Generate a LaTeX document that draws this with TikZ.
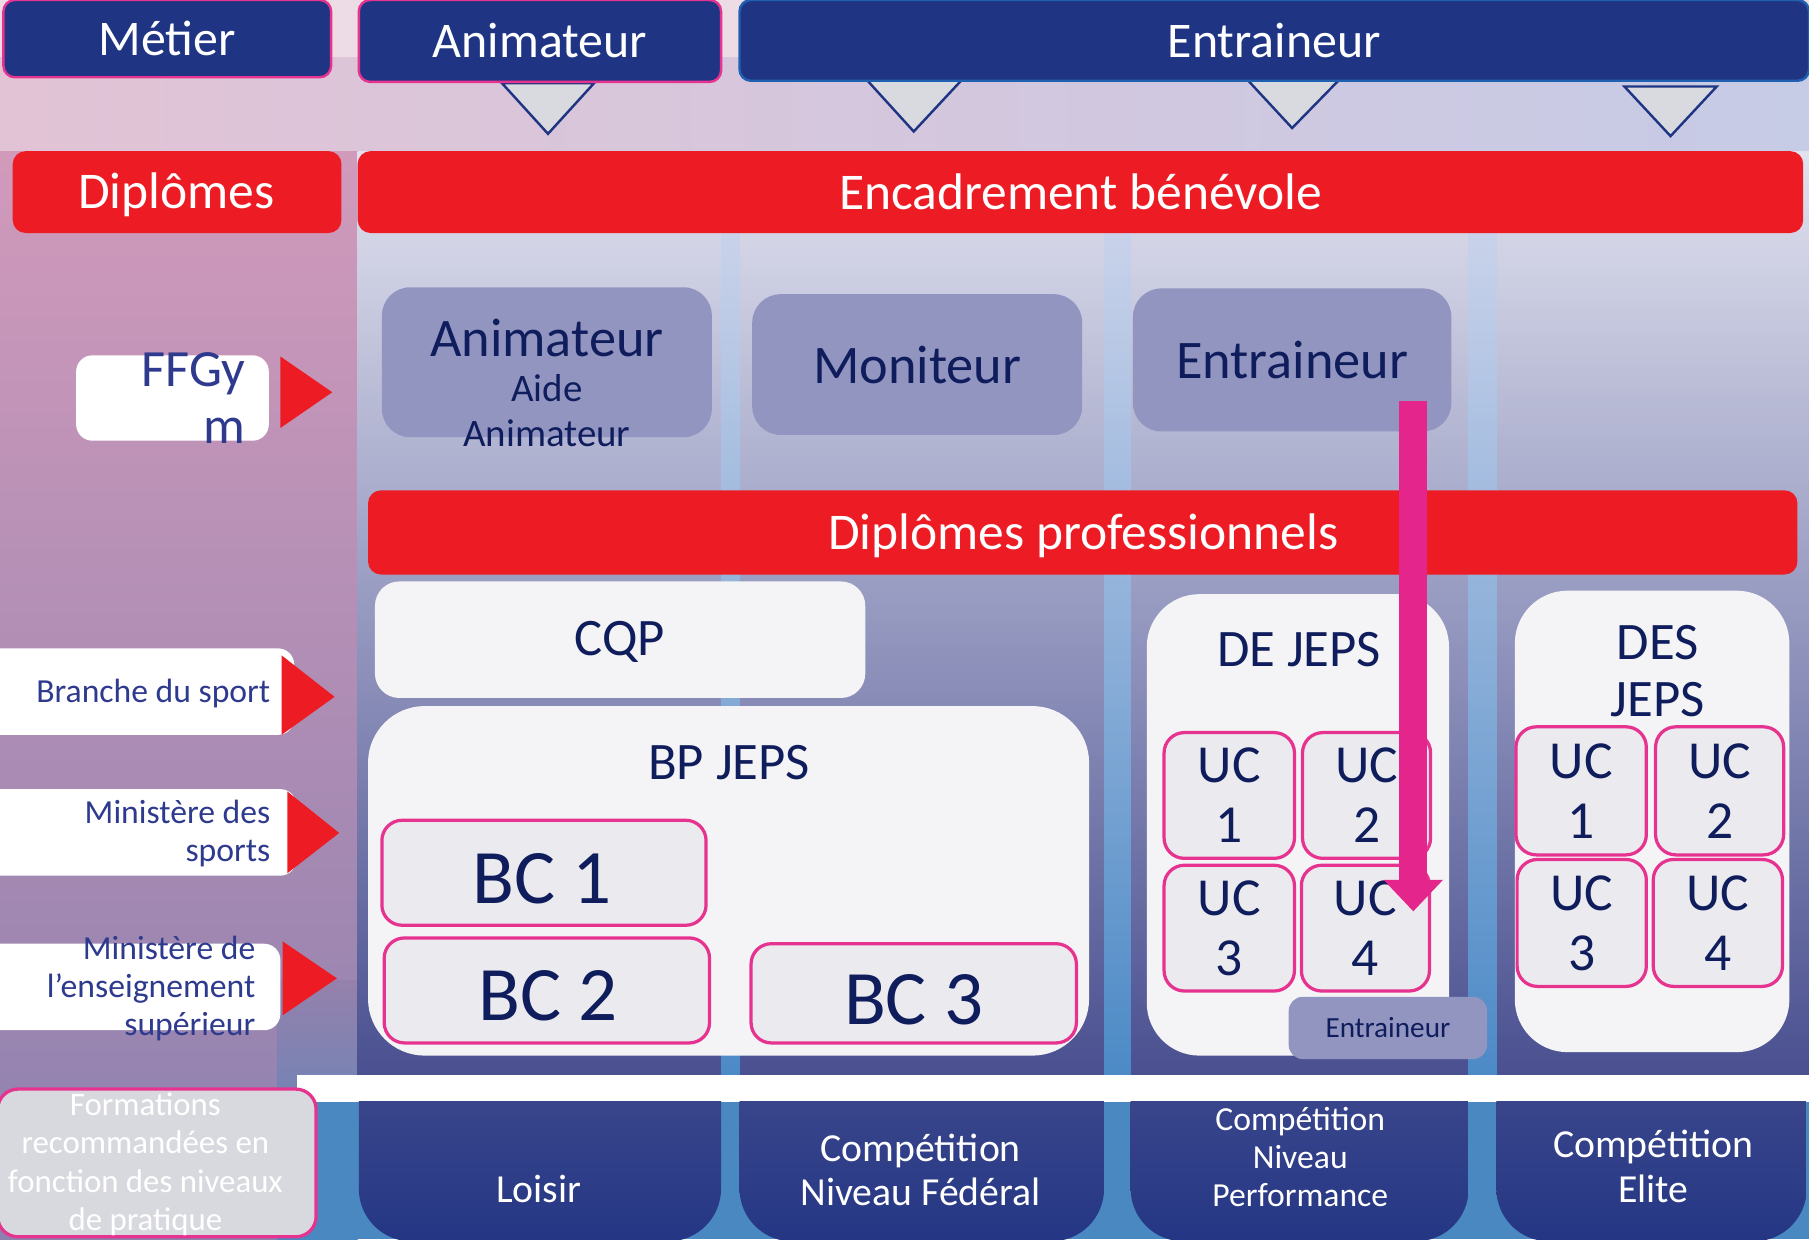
\documentclass[tikz,border=0pt]{standalone}
\usepackage{fontspec}
\setmainfont{Carlito}
\usetikzlibrary{arrows.meta}
\definecolor{navy}{HTML}{1F3584}
\definecolor{pinkb}{HTML}{E6338F}
\definecolor{bluebd}{HTML}{2060B0}
\definecolor{redb}{HTML}{ED1C24}
\definecolor{rolef}{HTML}{9395C1}
\definecolor{darkt}{HTML}{0F1D5C}
\definecolor{srct}{HTML}{2E3A8E}
\definecolor{palef}{HTML}{F4F4F6}
\definecolor{unitf}{HTML}{EBEBEF}
\definecolor{trif}{HTML}{D9DADF}
\definecolor{formf}{HTML}{D8D9DE}
\definecolor{arrowc}{HTML}{E3258C}
\definecolor{bgTop}{HTML}{EDDCE6}
\definecolor{leftTop}{HTML}{D19ABB}
\definecolor{leftMid}{HTML}{A181A8}
\definecolor{leftBot}{HTML}{8C80AE}
\definecolor{stripL}{HTML}{E2C3D5}
\definecolor{stripM}{HTML}{F2EFF5}
\definecolor{stripR}{HTML}{C6CBE6}
\definecolor{colTop}{HTML}{E1E2EF}
\definecolor{colMid}{HTML}{BDBFD9}
\definecolor{colBot}{HTML}{4A5090}
\definecolor{sepTop}{HTML}{C9D2EA}
\definecolor{sepBot}{HTML}{4C8AC6}
\definecolor{lowblue}{HTML}{4A88C1}
\definecolor{lvTop}{HTML}{424C8E}
\definecolor{lvBot}{HTML}{243684}

\begin{document}
\begin{tikzpicture}[x=0.1mm,y=-0.1mm,
hdr/.style={fill=navy,draw=pinkb,line width=0.6pt,rounded corners=2.8pt,text=white,inner sep=0pt,font=\fontsize{12.3}{14}\selectfont},
red bar/.style={fill=redb,rounded corners=3.2pt,text=white,inner sep=0pt,font=\fontsize{12.7}{14}\selectfont},
red text/.style={text=white,inner sep=0pt,font=\fontsize{12.7}{14}\selectfont},
role/.style={fill=rolef,rounded corners=7pt,text=darkt,inner sep=0pt,font=\fontsize{13.4}{15}\selectfont},
role text/.style={text=darkt,inner sep=0pt,align=center},
src/.style={fill=white,rounded corners=4pt,inner sep=0pt},
src text/.style={anchor=east,align=right,text=srct,inner sep=0pt,font=\fontsize{8.3}{9.4}\selectfont},
src arrow/.style={fill=redb},
dip/.style={fill=palef,inner sep=0pt},
dip text/.style={text=darkt,inner sep=0pt,align=center,font=\fontsize{13}{14}\selectfont},
unit/.style={fill=unitf,draw=pinkb,line width=0.8pt,rounded corners=5pt,text=darkt,inner sep=0pt,align=center,font=\fontsize{13.2}{14.8}\selectfont},
bc/.style={unit,draw=none,fill=none,font=\fontsize{19}{20}\selectfont},
level box/.style={top color=lvTop,bottom color=lvBot,rounded corners=13pt},
level/.style={text=white,align=center,inner sep=0pt,font=\fontsize{9.8}{10.8}\selectfont},
tri/.style={fill=trif,draw=navy,line width=0.6pt}]
\useasboundingbox (0,0) rectangle (1568,1074);

% background
\fill[bgTop] (0,0) rectangle (1568,131);
\shade[left color=stripL,middle color=stripM,right color=stripR] (0,50) rectangle (1568,131);
\shade[top color=leftTop,middle color=leftMid,bottom color=leftBot] (0,131) rectangle (310,1074);
\shade[top color=leftMid!45!leftBot,bottom color=lowblue] (240,850) rectangle (310,1074);
\shade[top color=colTop,middle color=colMid,bottom color=colBot] (310,131) rectangle (1568,932);
\foreach \xa/\xb in {625/641,957/980,1273/1297}
  \shade[top color=sepTop,bottom color=sepBot] (\xa,202) rectangle (\xb,932);
\fill[lowblue] (257,955) rectangle (1568,1074);
\fill[white] (257,932) rectangle (1568,955);

% practice levels
\foreach \xa/\xb in {311/625,641/957,980/1273,1297/1566} {
  \begin{scope}
    \clip (\xa,955) rectangle (\xb,1080);
    \shade[level box] (\xa,900) rectangle (\xb,1076);
  \end{scope}
}
\node[level] (loisir) at (467,1031) {Loisir};
\node[level] (fed) at (798,1014) {Compétition\\Niveau Fédéral};
\node[level,font=\fontsize{8.3}{9.4}\selectfont] (perf) at (1127,1003) {Compétition\\Niveau\\Performance};
\node[level,font=\fontsize{9.8}{11.1}\selectfont] (elite) at (1433,1011) {Compétition\\Elite};

% trades
\filldraw[tri] (435,72) -- (515,72) -- (475,116) -- cycle;
\filldraw[tri] (752,70) -- (833,70) -- (792,114) -- cycle;
\filldraw[tri] (1082,70) -- (1160,70) -- (1120,111) -- cycle;
\filldraw[tri] (1408,75) -- (1488,75) -- (1448,118) -- cycle;
\node[hdr,minimum width=28.4mm,minimum height=6.7mm] (metier) at (145,33.5) {Métier};
\node[hdr,minimum width=31.4mm,minimum height=7.1mm] (animh) at (468,35.5) {Animateur};
\node[hdr,draw=bluebd,minimum width=92.7mm,minimum height=7mm] (entrh) at (1104.5,35) {Entraineur};

\node[red bar,minimum width=28.5mm,minimum height=7.1mm] (dipl) at (153.5,166.5) {};
\node[red text] (diplt) at (153,169) {Diplômes};
\node[red bar,minimum width=125.3mm,minimum height=7.1mm] (benev) at (936.5,166.5) {Encadrement bénévole};

% federal titles
\node[role,minimum width=28.6mm,minimum height=13mm] (anim) at (474,314) {};
\node[role text,font=\fontsize{13.4}{15}\selectfont] (animt) at (474,293) {Animateur};
\node[role text,font=\fontsize{9.6}{11.1}\selectfont] (aide) at (474,356) {Aide\\Animateur};
\node[role,minimum width=28.6mm,minimum height=12.2mm] (monit) at (795,316) {Moniteur};
\node[role,minimum width=27.6mm,minimum height=12.4mm] (entr) at (1120,312) {Entraineur};

% who delivers
\node[src,minimum width=16.7mm,minimum height=7.4mm] (ffg) at (149.5,345) {};
\node[src text,font=\fontsize{12.9}{13.9}\selectfont] (ffgt) at (213,345) {FFGy\\m};
\fill[src arrow] (243,309) -- (288,340) -- (243,371) -- cycle;
\node[src,minimum width=27.5mm,minimum height=7.5mm] (branche) at (117.5,599.5) {};
\node[src text] (branchet) at (235,601) {Branche du sport};
\fill[src arrow] (244,568) -- (290,604) -- (244,637) -- cycle;
\node[src,minimum width=27.7mm,minimum height=7.5mm] (minsp) at (118.5,721.5) {};
\node[src text] (minspt) at (235,722.5) {Ministère des\\sports};
\fill[src arrow] (249,686) -- (294,722) -- (249,757) -- cycle;
\node[src,minimum width=26.3mm,minimum height=7.5mm] (minsup) at (111.5,855.5) {};
\node[src text] (minsupt) at (222,857) {Ministère de\\l’enseignement\\supérieur};
\fill[src arrow] (245,816) -- (292,848) -- (245,880) -- cycle;
\node[fill=formf,draw=pinkb,line width=0.8pt,rounded corners=5pt,minimum width=27.6mm,minimum height=12.8mm] (form) at (136,1008) {};
\node[text=white,align=center,inner sep=0pt,font=\fontsize{8.1}{9.5}\selectfont] (formt) at (126,1009) {Formations\\recommandées en\\fonction des niveaux\\de pratique};

% professional diplomas
\node[red bar,minimum width=123.9mm,minimum height=7.3mm] (pro) at (938.5,461.5) {};
\node[red text] (prot) at (939,464) {Diplômes professionnels};
\node[dip,rounded corners=6pt,minimum width=42.5mm,minimum height=10.1mm] (cqp) at (537.5,554.5) {};
\node[dip text] (cqpt) at (537,556) {CQP};
\node[dip,rounded corners=14pt,minimum width=62.5mm,minimum height=30.3mm] (bp) at (631.5,763.5) {};
\node[dip text] (bpt) at (632,661) {BP JEPS};
\node[unit,minimum width=28.1mm,minimum height=9.1mm] (bc1) at (471.5,756.5) {};
\node[bc] (bc1t) at (470,762) {BC 1};
\node[unit,minimum width=28.2mm,minimum height=9.1mm] (bc2) at (474,858.5) {};
\node[bc] (bc2t) at (475,863) {BC 2};
\node[unit,minimum width=28.2mm,minimum height=8.6mm] (bc3) at (792,861) {};
\node[bc] (bc3t) at (792,867) {BC 3};

\node[dip,rounded corners=13pt,minimum width=26.2mm,minimum height=40mm] (de) at (1125,715) {};
\node[dip text] (det) at (1126,563) {DE JEPS};
\node[unit,minimum width=11.3mm,minimum height=10.9mm] (de1) at (1065.5,689.5) {UC\\1};
\node[unit,minimum width=11.1mm,minimum height=10.9mm] (de2) at (1184.5,689.5) {UC\\2};
\node[unit,minimum width=11.3mm,minimum height=10.9mm] (de3) at (1065.5,804.5) {UC\\3};
\node[unit,minimum width=11.1mm,minimum height=10.9mm] (de4) at (1183.5,804.5) {UC\\4};
\node[fill=rolef,rounded corners=3.5pt,inner sep=0pt,text=darkt,font=\fontsize{7.2}{8}\selectfont,minimum width=17.2mm,minimum height=5.4mm] (entrde) at (1203,891) {Entraineur};

\node[dip,rounded corners=13pt,minimum width=23.8mm,minimum height=40mm] (des) at (1432,712) {};
\node[dip text] (dest) at (1437,582) {DES\\JEPS};
\node[unit,minimum width=11.3mm,minimum height=11.1mm] (des1) at (1370.5,685.5) {UC\\1};
\node[unit,minimum width=11.1mm,minimum height=11.1mm] (des2) at (1490.5,685.5) {UC\\2};
\node[unit,minimum width=11.2mm,minimum height=11mm] (des3) at (1371,800) {UC\\3};
\node[unit,minimum width=11.2mm,minimum height=11mm] (des4) at (1489,800) {UC\\4};

% entraineur -> DE JEPS
\coordinate (arrs) at (1225,348);
\coordinate (arre) at (1225,790);
\draw[arrowc,line width=7pt,-{Triangle[width=14.2pt,length=7.8pt]}] (arrs) -- (arre);
\end{tikzpicture}
\end{document}
